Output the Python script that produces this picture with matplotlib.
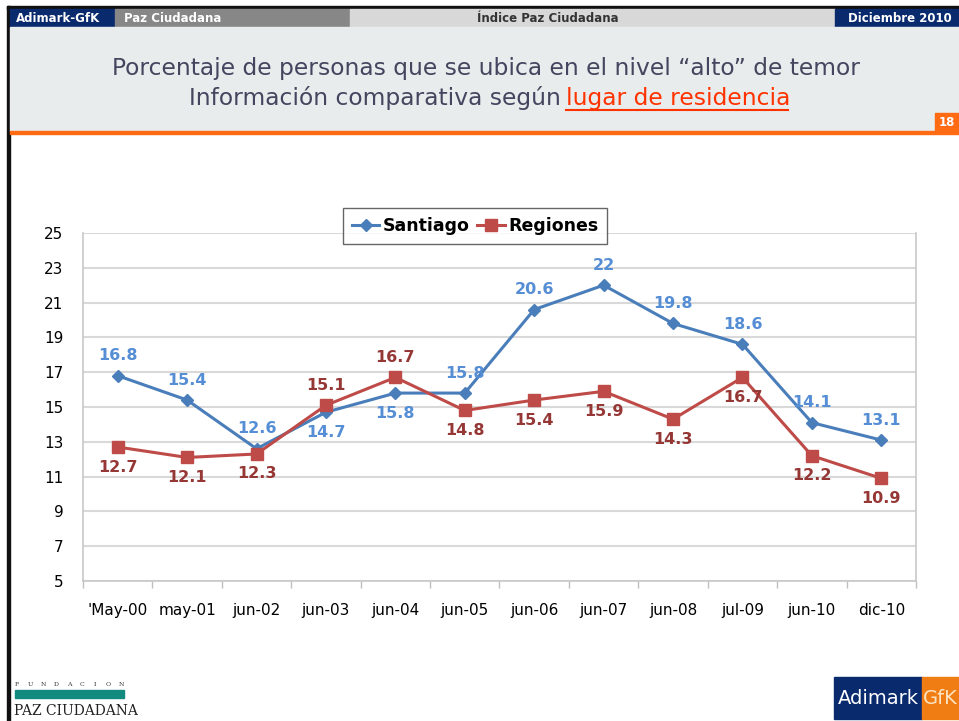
import matplotlib.pyplot as plt
from matplotlib.patches import Rectangle
from matplotlib.lines import Line2D

categories = ["'May-00", "may-01", "jun-02", "jun-03", "jun-04", "jun-05",
              "jun-06", "jun-07", "jun-08", "jul-09", "jun-10", "dic-10"]
santiago = [16.8, 15.4, 12.6, 14.7, 15.8, 15.8, 20.6, 22, 19.8, 18.6, 14.1, 13.1]
regiones = [12.7, 12.1, 12.3, 15.1, 16.7, 14.8, 15.4, 15.9, 14.3, 16.7, 12.2, 10.9]
# label placement: +1 above the point, -1 below
santiago_pos = [1, 1, 1, -1, -1, 1, 1, 1, 1, 1, 1, 1]
regiones_pos = [-1, -1, -1, 1, 1, -1, -1, -1, -1, -1, -1, -1]
y_ticks = list(range(5, 26, 2))

blue_line = "#4a7ebb"
blue_text = "#558ed5"
red_line = "#be4b48"
red_text = "#953735"

fig = plt.figure(figsize=(9.59, 7.21), dpi=100)
W, H = 959.0, 721.0


def box(x0, y0, x1, y1, color, **kw):
    # pixel coordinates, y measured from the top
    fig.patches.append(Rectangle((x0 / W, 1 - y1 / H), (x1 - x0) / W, (y1 - y0) / H,
                                 transform=fig.transFigure, color=color, zorder=0, **kw))


def txt(x, y, s, **kw):
    fig.text(x / W, 1 - y / H, s, **kw)


# header bar
box(7, 6, 959, 9, "#111111")
box(7, 6, 10, 721, "#111111")
box(10, 9, 115, 27, "#0a2a6e")
box(115, 9, 350, 27, "#878787")
box(350, 9, 835, 27, "#d8d8d8")
box(835, 9, 959, 27, "#0a2a6e")
txt(16, 18, "Adimark-GfK", color="white", fontsize=8.5, fontweight="bold", va="center")
txt(124, 18, "Paz Ciudadana", color="white", fontsize=8.5, fontweight="bold", va="center")
txt(548, 18, "Índice Paz Ciudadana", color="#333333", fontsize=8.5, fontweight="bold",
    va="center", ha="center")
txt(952, 18, "Diciembre 2010", color="white", fontsize=8.5, fontweight="bold",
    va="center", ha="right")

# title area
box(10, 27, 959, 131, "#e9ecec")
box(10, 131, 959, 134, "#ff6a13")
box(935, 113, 959, 131, "#ff6a13")
txt(947, 123, "18", color="white", fontsize=8.5, fontweight="bold", va="center", ha="center")
title_color = "#45455f"
txt(486, 68, "Porcentaje de personas que se ubica en el nivel \u201calto\u201d de temor",
    color=title_color, fontsize=16.8, ha="center", va="center")
txt(561, 98, "Información comparativa según", color=title_color,
    fontsize=16.8, ha="right", va="center")
txt(566, 98, "lugar de residencia", color="#ff3300", fontsize=16.8, ha="left", va="center")
fig.add_artist(Line2D([566 / W, 788 / W], [1 - 110 / H, 1 - 110 / H], color="#ff3300", lw=1.5))

# chart
ax = fig.add_axes([83 / W, 1 - 581 / H, (916 - 83) / W, (581 - 233) / H])
x = list(range(len(categories)))
ax.plot(x, santiago, color=blue_line, lw=2.2, marker="D", markersize=6, label="Santiago", zorder=3)
ax.plot(x, regiones, color=red_line, lw=2.2, marker="s", markersize=8, label="Regiones", zorder=3)

for i in x:
    ax.annotate(f"{santiago[i]:g}", (i, santiago[i]), xytext=(0, 20 * santiago_pos[i]),
                textcoords="offset pixels", ha="center", va="center",
                color=blue_text, fontsize=11.5, fontweight="bold", zorder=4)
    ax.annotate(f"{regiones[i]:g}", (i, regiones[i]), xytext=(0, 20 * regiones_pos[i]),
                textcoords="offset pixels", ha="center", va="center",
                color=red_text, fontsize=11.5, fontweight="bold", zorder=4)

ax.set_xlim(-0.5, len(categories) - 0.5)
ax.set_ylim(5, 25)
ax.set_yticks(y_ticks)
ax.set_xticks(x)
ax.set_xticklabels(categories)
ax.set_xticks([i - 0.5 for i in range(len(categories) + 1)], minor=True)
ax.tick_params(axis="x", which="major", length=0, pad=16, labelsize=11)
ax.tick_params(axis="x", which="minor", length=5, color="#bfbfbf", width=1)
ax.tick_params(axis="y", length=0, pad=14, labelsize=11)
ax.grid(axis="y", color="#d9d9d9", lw=1.5)
ax.set_axisbelow(True)
for s in ax.spines.values():
    s.set_color("#c8c8c8")
    s.set_linewidth(1.2)
ax.spines["top"].set_visible(False)

leg = fig.legend(loc="center", bbox_to_anchor=(475 / W, 1 - 226 / H), ncol=2,
                 prop={"size": 12.5, "weight": "bold"}, frameon=True, fancybox=False,
                 handlelength=1.6, handletextpad=0.2, columnspacing=0.4, borderpad=0.5,
                 borderaxespad=0)
leg.get_frame().set_edgecolor("#404040")
leg.get_frame().set_linewidth(1.0)

# logos
for k, ch in enumerate("FUNDACION"):
    txt(17 + k * 13, 685, ch, fontsize=4.5, family="DejaVu Serif", color="#333333",
        va="center", ha="center")
box(15, 690, 124, 698, "#138a7e")
txt(14, 711, "PAZ CIUDADANA", fontsize=10, family="DejaVu Serif", color="#222222",
    va="center")
box(834, 677, 922, 719, "#0a2a6e")
box(922, 677, 959, 719, "#f07d13")
txt(878, 698, "Adimark", color="white", fontsize=14, ha="center", va="center")
txt(940, 698, "GfK", color="#fde3c0", fontsize=14, ha="center", va="center")

fig.savefig("out.png", dpi=100)
